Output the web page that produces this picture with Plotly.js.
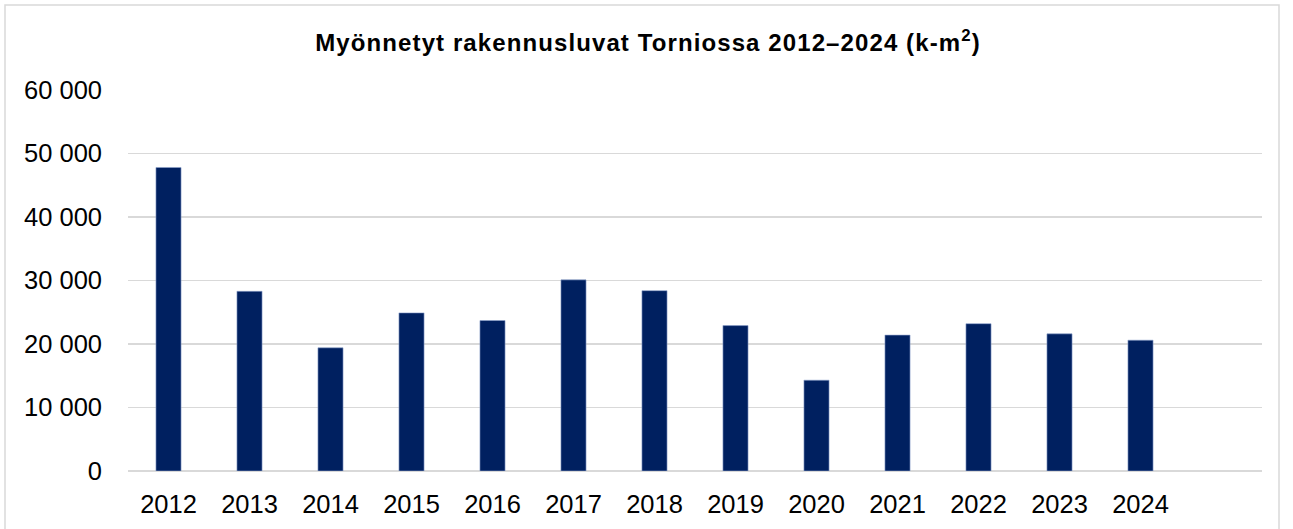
<!DOCTYPE html>
<html>
<head>
<meta charset="utf-8">
<script src="https://cdn.plot.ly/plotly-3.0.1.min.js"></script>
<style>html,body{margin:0;padding:0;background:#fff;}#chart{width:1293px;height:529px;}
#chart .gtitle{letter-spacing:1.1px;}</style>
</head>
<body>
<div id="chart"></div>
<script>
const years = ["2012","2013","2014","2015","2016","2017","2018","2019","2020","2021","2022","2023","2024"];
const permits = [47800, 28300, 19400, 24900, 23700, 30100, 28400, 22900, 14300, 21400, 23200, 21600, 20600];
const yTicks = [0, 10000, 20000, 30000, 40000, 50000, 60000];
const chartTitle = "Myönnetyt rakennusluvat Torniossa 2012–2024 (k-m<sup>2</sup>)";

const W = 1293, H = 529;
const mL = 128, mR = 31, mT = 90, mB = 58;
const pw = W - mL - mR, ph = H - mT - mB;
const px = v => (v - mL) / pw;
const py = v => 1 - (v - mT) / ph;
const FONT = "Liberation Sans, Arial, sans-serif";

const trace = {
  type: "bar",
  x: years,
  y: permits,
  marker: {color: "#002060", line: {color: "#8fa2cc", width: 0.6}},
  width: 0.31,
  hoverinfo: "x+y"
};

const layout = {
  width: W, height: H,
  margin: {l: mL, r: mR, t: mT, b: mB, pad: 0},
  paper_bgcolor: "#ffffff",
  plot_bgcolor: "#ffffff",
  separators: ", ",
  font: {family: FONT, color: "#000000", size: 25.5},
  title: {
    text: chartTitle,
    font: {family: FONT, size: 24, color: "#000000", weight: "bold"},
    x: 648 / W, xanchor: "center", xref: "container",
    y: 1 - 43 / H, yanchor: "middle", yref: "container"
  },
  xaxis: {
    type: "category",
    range: [-0.5, 13.5],
    showgrid: false,
    zeroline: false,
    showline: false,
    ticks: "",
    tickfont: {size: 25.5, family: FONT},
    ticklabelstandoff: 15,
    fixedrange: true
  },
  yaxis: {
    range: [0, 60000],
    tickvals: yTicks,
    tickformat: ",d",
    showgrid: true,
    gridcolor: "#d9d9d9",
    gridwidth: 1.5,
    zeroline: true,
    zerolinecolor: "#d9d9d9",
    zerolinewidth: 1.5,
    showline: false,
    ticks: "",
    tickfont: {size: 25.5, family: FONT},
    ticklabelstandoff: 25,
    fixedrange: true
  },
  shapes: [{
    type: "rect", xref: "paper", yref: "paper",
    x0: px(5), x1: px(1279), y0: py(5), y1: py(540),
    line: {color: "#d9d9d9", width: 1.5}, fillcolor: "rgba(0,0,0,0)", layer: "below"
  }],
  showlegend: false
};

Plotly.newPlot("chart", [trace], layout, {displayModeBar: false, staticPlot: true});
</script>
</body>
</html>
